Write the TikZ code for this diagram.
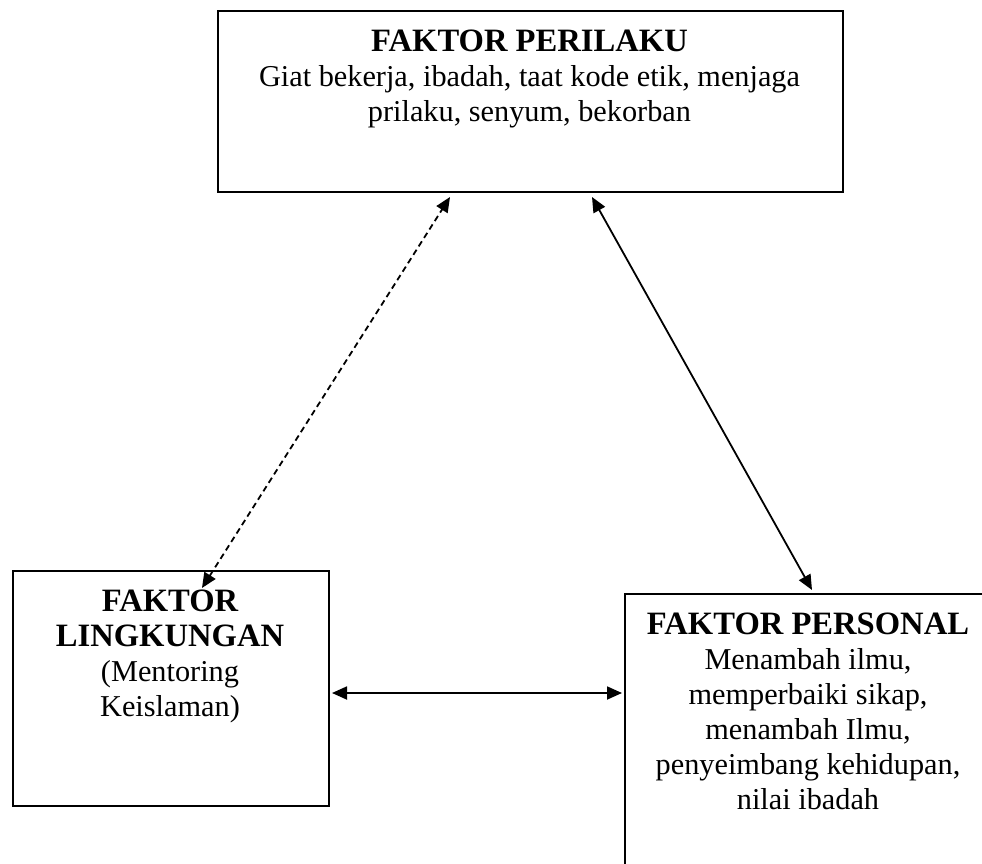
\documentclass[tikz,border=0pt]{standalone}
\usepackage{fontspec}
\setmainfont{Liberation Serif}
\usetikzlibrary{arrows.meta,calc}

\newcommand{\hd}[1]{{\fontsize{32.6}{35}\selectfont\bfseries #1}}

\tikzset{
  factorbox/.style={draw, line width=2pt, anchor=north west, inner sep=0pt},
  factortext/.style={anchor=north, align=center, inner sep=0pt,
    font=\fontsize{30.3}{35}\selectfont},
  link/.style={line width=1.8pt, {Triangle[length=15pt,width=13pt]}-{Triangle[length=15pt,width=13pt]}},
  dashlink/.style={link, dash pattern=on 6pt off 4pt}
}

\begin{document}
\begin{tikzpicture}[x=1pt, y=-1pt]
  \useasboundingbox (0,0) rectangle (982,864);
  \clip (0,0) rectangle (982,864);

  % the three boxes
  \node[factorbox, minimum width=625pt, minimum height=181pt] (perilaku) at (217,10) {};
  \node[factorbox, minimum width=316pt, minimum height=235pt] (lingkungan) at (12,570) {};
  \node[factorbox, minimum width=372pt, minimum height=300pt] (personal) at (624,593) {};

  % box contents
  \node[factortext] (tperilaku) at (529.5,30)
    {\hd{FAKTOR PERILAKU}\\Giat bekerja, ibadah, taat kode etik, menjaga\\prilaku, senyum, bekorban};
  \node[factortext] (tlingkungan) at (170,590)
    {\hd{FAKTOR}\\\hd{LINGKUNGAN}\\(Mentoring\\Keislaman)};
  \node[factortext] (tpersonal) at (808,613)
    {\hd{FAKTOR PERSONAL}\\Menambah ilmu,\\memperbaiki sikap,\\menambah Ilmu,\\penyeimbang kehidupan,\\nilai ibadah};

  % connector end points
  \coordinate (pl) at ($(perilaku.south west)+(233,4)$);
  \coordinate (pr) at ($(perilaku.south west)+(375,4)$);
  \coordinate (lt) at ($(lingkungan.north west)+(190,18)$);
  \coordinate (lr) at ($(lingkungan.north east)+(2,123)$);
  \coordinate (rt) at ($(personal.north west)+(188,-3)$);
  \coordinate (rl) at ($(personal.north west)+(-2,100)$);

  % relations between the factors
  \draw[dashlink] (lt) -- (pl);
  \draw[link] (pr) -- (rt);
  \draw[link] (lr) -- (rl);
\end{tikzpicture}
\end{document}
